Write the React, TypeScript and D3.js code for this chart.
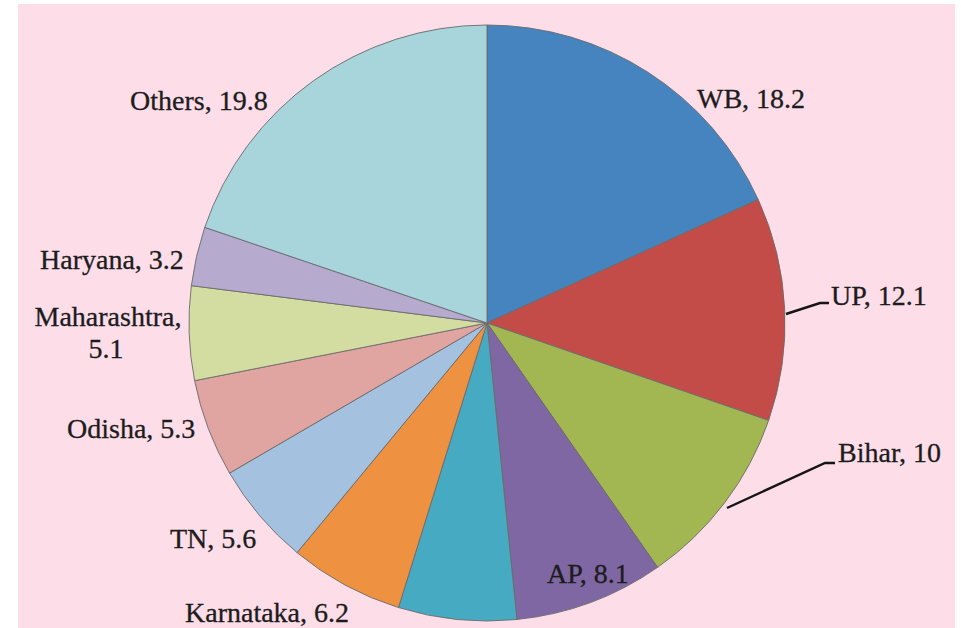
import React from "react";
import * as d3 from "d3";

// Share of total (%) by state, clockwise from 12 o'clock
const states = ["WB", "UP", "Bihar", "AP", "", "Karnataka", "TN", "Odisha", "Maharashtra", "Haryana", "Others"];
const shares = [18.2, 12.1, 10, 8.1, 6.4, 6.2, 5.6, 5.3, 5.1, 3.2, 19.8];
const colors = [
  "#4584be", "#c44c48", "#a2b651", "#7f67a3", "#47aac3", "#ee9141",
  "#a5c1e0", "#e0a4a1", "#d4dda1", "#b6abcf", "#a8d4db",
];

// Label placement: text lines as [text, x, y], plus an optional leader line
type LabelLayout = { lines: [string, number, number][]; anchor: "start" | "middle"; leader?: [number, number][] };
const labelLayout: (LabelLayout | null)[] = [
  { lines: [["WB, 18.2", 697, 108]], anchor: "start" },
  { lines: [["UP, 12.1", 831, 305]], anchor: "start", leader: [[786, 314], [820, 303], [829, 303]] },
  { lines: [["Bihar, 10", 838, 462]], anchor: "start", leader: [[727, 508], [825, 463], [835, 463]] },
  { lines: [["AP, 8.1", 547, 583]], anchor: "start" },
  null,
  { lines: [["Karnataka, 6.2", 185, 622]], anchor: "start" },
  { lines: [["TN, 5.6", 170, 548]], anchor: "start" },
  { lines: [["Odisha, 5.3", 67, 438]], anchor: "start" },
  { lines: [["Maharashtra,", 108, 326], ["5.1", 106, 358]], anchor: "middle" },
  { lines: [["Haryana, 3.2", 40, 269]], anchor: "start" },
  { lines: [["Others, 19.8", 130, 110]], anchor: "start" },
];

const W = 961;
const H = 628;
const cx = 487;
const cy = 323;
const radius = 298;

export default function App() {
  const data = states.map((s, i) => ({ state: s, value: shares[i], color: colors[i], layout: labelLayout[i] }));
  const pie = d3.pie<(typeof data)[number]>().value((d) => d.value).sort(null).startAngle(0).endAngle(2 * Math.PI);
  const arc = d3.arc<d3.PieArcDatum<(typeof data)[number]>>().innerRadius(0).outerRadius(radius);
  const arcs = pie(data);
  const line = d3.line();

  return (
    <svg width={W} height={H} style={{ position: "absolute", left: 0, top: 0 }}>
      <rect x={0} y={0} width={W} height={H} fill="#ffffff" />
      <rect x={18} y={4} width={937} height={H - 4} fill="#fcdde8" />
      <g transform={`translate(${cx},${cy})`}>
        {arcs.map((a, i) => (
          <path key={i} d={arc(a) ?? ""} fill={a.data.color} stroke="#6b6b6b" strokeWidth={0.9} />
        ))}
      </g>
      {data.map((d, i) =>
        d.layout ? (
          <g key={i}>
            {d.layout.leader && (
              <path d={line(d.layout.leader) ?? ""} fill="none" stroke="#151515" strokeWidth={2.4} />
            )}
            {d.layout.lines.map(([t, x, y], j) => (
              <text
                key={j}
                x={x}
                y={y}
                textAnchor={d.layout!.anchor}
                fontFamily="'Liberation Serif', 'Times New Roman', serif"
                fontSize={28}
                fill="#1c1c1c"
                stroke="#1c1c1c"
                strokeWidth={0.3}
              >
                {t}
              </text>
            ))}
          </g>
        ) : null
      )}
    </svg>
  );
}
